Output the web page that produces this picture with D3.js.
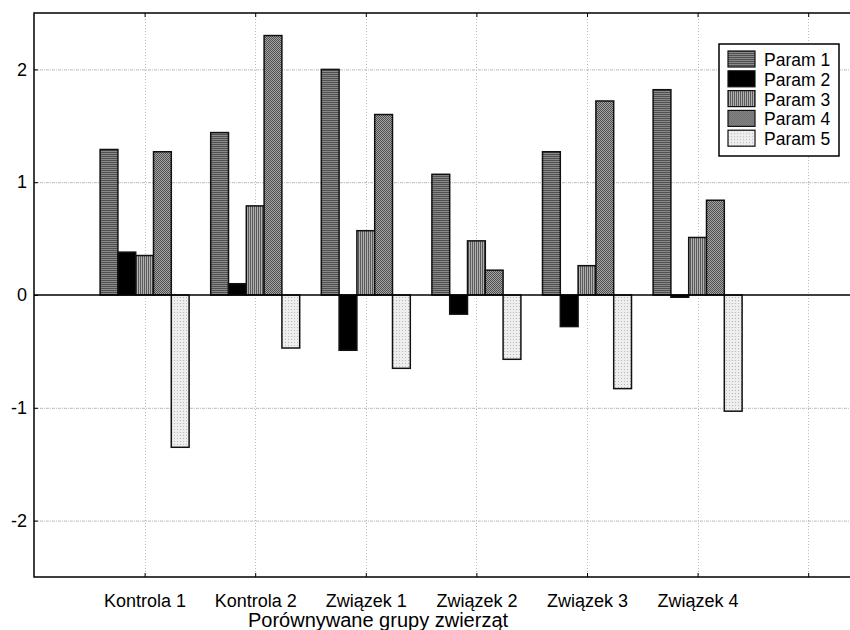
<!DOCTYPE html>
<html>
<head>
<meta charset="utf-8">
<script src="https://cdn.jsdelivr.net/npm/d3@7"></script>
<style>
  body { margin: 0; background: #fff; }
  svg { display: block; font-family: "Liberation Sans", Arial, sans-serif; }
</style>
</head>
<body>
<svg id="chart" width="850" height="630"></svg>
<script>
const groups = ["Kontrola 1", "Kontrola 2", "Związek 1", "Związek 2", "Związek 3", "Związek 4"];
const params = ["Param 1", "Param 2", "Param 3", "Param 4", "Param 5"];

const param1 = [1.29, 1.44, 2.00, 1.07, 1.27, 1.82];
const param2 = [0.38, 0.10, -0.49, -0.17, -0.28, -0.02];
const param3 = [0.35, 0.79, 0.57, 0.48, 0.26, 0.51];
const param4 = [1.27, 2.30, 1.60, 0.22, 1.72, 0.84];
const param5 = [-1.35, -0.47, -0.65, -0.57, -0.83, -1.03];

const yTicks = [-2, -1, 0, 1, 2];
const xTicks = [1, 2, 3, 4, 5, 6, 7];

const series = [param1, param2, param3, param4, param5];
const barData = [];
groups.forEach((g, gi) => {
  params.forEach((p, pi) => barData.push({group: g, gi: gi + 1, param: p, pi, value: series[pi][gi]}));
});

const svg = d3.select('#chart');
const margin = {top: 13, left: 34, bottom: 577};
const font = '"Liberation Sans", Arial, sans-serif';

const x = d3.scaleLinear().domain([0, 8]).range([margin.left, margin.left + 8 * 110.6]);
const y = d3.scaleLinear().domain([-2.5, 2.5]).range([margin.bottom, margin.top]);
const xz = d3.scaleBand().domain(params).range([-44.5, 44.5]);

// patterns
const defs = svg.append('defs');
const pat = (id, w, h, bg, draw) => {
  const p = defs.append('pattern').attr('id', id).attr('patternUnits', 'userSpaceOnUse')
    .attr('width', w).attr('height', h);
  p.append('rect').attr('width', w).attr('height', h).attr('fill', bg);
  draw(p);
};
pat('p1', 4, 2, '#8a8a8a', p => p.append('rect').attr('width', 4).attr('height', 1).attr('fill', '#505050'));
pat('p3', 2, 4, '#b0b0b0', p => p.append('rect').attr('width', 1).attr('height', 4).attr('fill', '#5a5a5a'));
pat('p4', 2, 2, '#a4a4a4', p => {
  p.append('rect').attr('width', 1).attr('height', 1).attr('fill', '#505050');
  p.append('rect').attr('x', 1).attr('y', 1).attr('width', 1).attr('height', 1).attr('fill', '#505050');
});
pat('p5', 3, 3, '#eeeeee', p => p.append('rect').attr('width', 1).attr('height', 1).attr('fill', '#b8b8b8'));

const fills = ['url(#p1)', '#000', 'url(#p3)', 'url(#p4)', 'url(#p5)'];
const color = d3.scaleOrdinal().domain(params).range(fills);

// grid
const grid = svg.append('g').attr('stroke', '#bbb').attr('stroke-width', 1).attr('stroke-dasharray', '3,1,1,1');
grid.selectAll('line.h').data(yTicks.filter(d => d !== 0)).join('line')
  .attr('x1', margin.left).attr('x2', 850)
  .attr('y1', d => y(d) + 0.5).attr('y2', d => y(d) + 0.5);
grid.selectAll('line.v').data(xTicks).join('line')
  .attr('x1', d => Math.round(x(d)) + 0.5).attr('x2', d => Math.round(x(d)) + 0.5)
  .attr('y1', margin.top).attr('y2', margin.bottom)
  .attr('stroke-dasharray', '1,2');

// bars
svg.append('g').selectAll('rect').data(barData).join('rect')
  .attr('x', d => x(d.gi) + xz(d.param))
  .attr('width', xz.bandwidth())
  .attr('y', d => y(Math.max(0, d.value)))
  .attr('height', d => Math.max(1, Math.abs(y(d.value) - y(0))))
  .attr('fill', d => color(d.param))
  .attr('stroke', '#111')
  .attr('stroke-width', 1.5);

// zero line
svg.append('line').attr('x1', margin.left).attr('x2', 850)
  .attr('y1', y(0)).attr('y2', y(0)).attr('stroke', '#000').attr('stroke-width', 1.5);

// frame
svg.append('path')
  .attr('d', `M850,${margin.top}H${margin.left}V${margin.bottom}H850`)
  .attr('fill', 'none').attr('stroke', '#000').attr('stroke-width', 1.5);

// axes
const yAxis = svg.append('g').attr('transform', `translate(${margin.left},0)`)
  .call(d3.axisLeft(y).tickValues(yTicks).tickSize(-4).tickPadding(7).tickFormat(d => String(d)));
yAxis.select('.domain').remove();
yAxis.selectAll('text').attr('font-size', 18).attr('fill', '#000').attr('font-family', font);

const xAxisB = svg.append('g').attr('transform', `translate(0,${margin.bottom})`)
  .call(d3.axisBottom(x).tickValues(xTicks).tickSize(-4).tickPadding(17)
    .tickFormat(d => groups[d - 1] || ''));
xAxisB.select('.domain').remove();
xAxisB.selectAll('text').attr('font-size', 18).attr('fill', '#000').attr('font-family', font);

const xAxisT = svg.append('g').attr('transform', `translate(0,${margin.top})`)
  .call(d3.axisTop(x).tickValues(xTicks).tickSize(-4).tickFormat(''));
xAxisT.select('.domain').remove();

svg.append('text').attr('x', 378).attr('y', 627).attr('text-anchor', 'middle')
  .attr('font-size', 20).text('Porównywane grupy zwierząt');

// legend
const lg = svg.append('g').attr('transform', 'translate(719,44)');
lg.append('rect').attr('width', 120).attr('height', 112).attr('fill', '#fff').attr('stroke', '#000').attr('stroke-width', 1.5);
const li = lg.selectAll('g.item').data(params).join('g')
  .attr('transform', (d, i) => `translate(9,${7 + i * 19.8})`);
li.append('rect').attr('width', 27).attr('height', 16)
  .attr('fill', d => color(d)).attr('stroke', '#111').attr('stroke-width', 1.2);
li.append('text').attr('x', 36).attr('y', 15).attr('font-size', 17.5).text(d => d);
</script>
</body>
</html>
